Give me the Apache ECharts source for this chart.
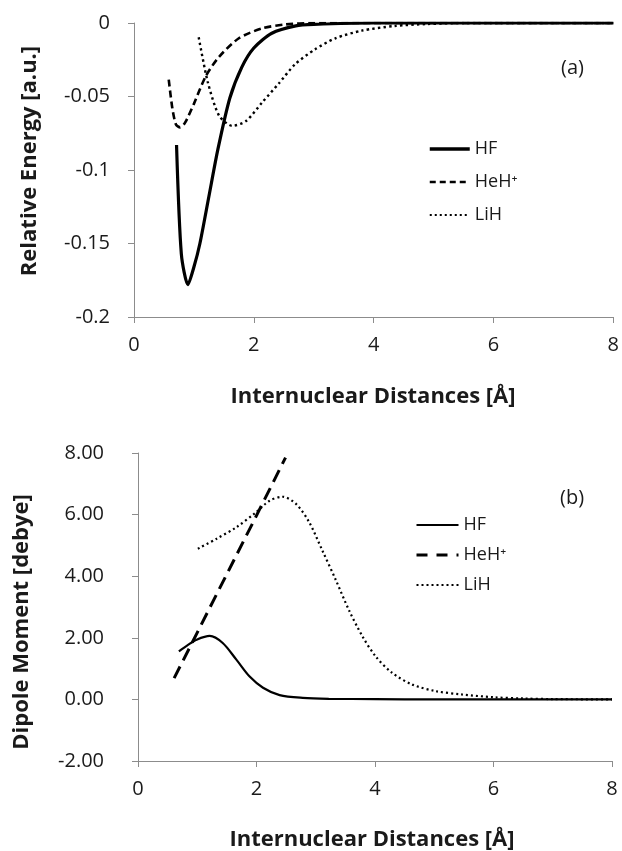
<!DOCTYPE html>
<html>
<head>
<meta charset="utf-8">
<script src="https://cdn.jsdelivr.net/npm/echarts@6/dist/echarts.min.js"></script>
<style>
html,body{margin:0;padding:0;background:#fff;}
#c{width:622px;height:851px;}
</style>
</head>
<body>
<div id="c"></div>
<script>
// ---- Data ----
const xTicks = [0, 2, 4, 6, 8];
const seriesNames = ['HF', 'HeH\u207A', 'LiH'];

// (a) Relative energy [a.u.]
const hfEnergyX   = [0.71, 0.79, 0.90, 1.00, 1.10, 1.25, 1.40, 1.60, 1.80, 2.00, 2.30, 2.70, 3.00, 4.00, 5.00, 6.00, 7.00, 8.00];
const hfEnergyY   = [-0.083, -0.157, -0.178, -0.166, -0.150, -0.118, -0.086, -0.051, -0.030, -0.017, -0.007, -0.002, -0.001, 0, 0, 0, 0, 0];
const hehEnergyX  = [0.58, 0.64, 0.70, 0.77, 0.85, 1.00, 1.20, 1.42, 1.75, 2.14, 2.53, 3.00, 4.00, 5.00, 6.00, 7.00, 8.00];
const hehEnergyY  = [-0.0385, -0.058, -0.069, -0.071, -0.068, -0.055, -0.036, -0.023, -0.0104, -0.0036, -0.001, 0, 0, 0, 0, 0, 0];
const lihEnergyX  = [1.08, 1.23, 1.42, 1.64, 1.87, 2.14, 2.42, 2.69, 3.02, 3.36, 3.80, 4.35, 4.90, 5.50, 6.00, 7.00, 8.00];
const lihEnergyY  = [-0.0097, -0.040, -0.063, -0.070, -0.0667, -0.054, -0.041, -0.028, -0.018, -0.0104, -0.0052, -0.002, -0.0007, 0, 0, 0, 0];

// (b) Dipole moment [debye]
const hfDipoleX   = [0.69, 0.85, 0.99, 1.21, 1.43, 1.66, 1.88, 2.11, 2.39, 2.78, 3.22, 4.00, 5.00, 6.00, 7.00, 8.00];
const hfDipoleY   = [1.56, 1.78, 1.94, 2.06, 1.83, 1.29, 0.75, 0.38, 0.14, 0.05, 0.02, 0.01, 0, 0, 0, 0];
const hehDipoleX  = [0.61, 1.00, 1.50, 2.00, 2.49];
const hehDipoleY  = [0.69, 2.17, 4.07, 5.97, 7.85];
const lihDipoleX  = [1.01, 1.32, 1.66, 1.99, 2.22, 2.44, 2.67, 2.89, 3.11, 3.34, 3.56, 3.79, 4.01, 4.29, 4.63, 5.02, 5.47, 6.00, 6.50, 7.00, 8.00];
const lihDipoleY  = [4.89, 5.21, 5.59, 6.07, 6.45, 6.58, 6.34, 5.75, 4.84, 3.87, 2.90, 2.04, 1.40, 0.86, 0.48, 0.27, 0.16, 0.07, 0.03, 0.01, 0.00];

const energyTicks = [-0.2, -0.15, -0.1, -0.05, 0];
const dipoleTicks = [-2, 0, 2, 4, 6, 8];

// ---- Helpers ----
const pair = (xs, ys) => xs.map((x, i) => [x, ys[i]]);
const FONT = "'Open Sans', 'Noto Sans', sans-serif";
const TXT = '#1a1a1a';
const AX = '#8c8c8c';

function xAxisCfg(gridIndex) {
  return {
    type: 'value', gridIndex, min: xTicks[0], max: xTicks[xTicks.length - 1], interval: 2,
    axisLine: { onZero: false, lineStyle: { color: AX, width: 1 } },
    axisTick: { show: true, length: 6, lineStyle: { color: AX } },
    axisLabel: { color: TXT, fontFamily: FONT, fontSize: 20, margin: 18 },
    splitLine: { show: false }
  };
}

const chart = echarts.init(document.getElementById('c'), null, { renderer: 'canvas' });

const legendBase = {
  orient: 'vertical', itemHeight: 14,
  textStyle: { color: TXT, fontFamily: FONT, fontSize: 18 },
  itemStyle: { opacity: 0 },
  selectedMode: false
};

const topStyles = [
  { color: '#000', width: 3.5, type: 'solid' },
  { color: '#000', width: 2.6, type: [6, 4] },
  { color: '#000', width: 2.2, type: [2, 3] }
];
const botStyles = [
  { color: '#000', width: 2.2, type: 'solid' },
  { color: '#000', width: 3, type: [11, 9] },
  { color: '#000', width: 2, type: [2, 3] }
];

const option = {
  animation: false,
  backgroundColor: '#fff',
  textStyle: { fontFamily: FONT },
  grid: [
    { left: 134, top: 23, width: 482, height: 294 },
    { left: 138, top: 453, width: 474, height: 308 }
  ],
  xAxis: [xAxisCfg(0), xAxisCfg(1)],
  yAxis: [
    {
      type: 'value', gridIndex: 0, min: energyTicks[0], max: energyTicks[energyTicks.length - 1], interval: 0.05,
      axisLine: { show: true, lineStyle: { color: AX } },
      axisTick: { show: true, length: 6, lineStyle: { color: AX } },
      axisLabel: { color: TXT, fontFamily: FONT, fontSize: 20, margin: 24 },
      splitLine: { show: false }
    },
    {
      type: 'value', gridIndex: 1, min: dipoleTicks[0], max: dipoleTicks[dipoleTicks.length - 1], interval: 2,
      axisLine: { show: true, lineStyle: { color: AX } },
      axisTick: { show: true, length: 6, lineStyle: { color: AX } },
      axisLabel: { color: TXT, fontFamily: FONT, fontSize: 20, margin: 34, formatter: v => v.toFixed(2) },
      splitLine: { show: false }
    }
  ],
  legend: [
    Object.assign({}, legendBase, {
      left: 423, top: 135, itemWidth: 40, itemGap: 15,
      data: seriesNames.map((n, i) => ({ name: n, lineStyle: topStyles[i] }))
    }),
    Object.assign({}, legendBase, {
      left: 410, top: 511, itemWidth: 42, itemGap: 12,
      data: seriesNames.map((n, i) => ({ name: n + ' ', lineStyle: botStyles[i] }))
    })
  ],
  graphic: [
    { type: 'text', left: 561, top: 58, style: { text: '(a)', fill: TXT, font: "20px 'Open Sans'" } },
    { type: 'text', left: 560, top: 488, style: { text: '(b)', fill: TXT, font: "20px 'Open Sans'" } },
    { type: 'text', x: 30, y: 161, rotation: Math.PI / 2, style: { text: 'Relative Energy [a.u.]', fill: TXT, font: "bold 22px 'Open Sans'", align: 'center', verticalAlign: 'middle' } },
    { type: 'text', x: 22, y: 622, rotation: Math.PI / 2, style: { text: 'Dipole Moment [debye]', fill: TXT, font: "bold 22px 'Open Sans'", align: 'center', verticalAlign: 'middle' } },
    { type: 'text', x: 373, y: 397, style: { text: 'Internuclear Distances [Å]', fill: TXT, font: "bold 22px 'Open Sans'", align: 'center', verticalAlign: 'middle' } },
    { type: 'text', x: 372, y: 840, style: { text: 'Internuclear Distances [Å]', fill: TXT, font: "bold 22px 'Open Sans'", align: 'center', verticalAlign: 'middle' } }
  ],
  series: [
    { name: seriesNames[0], type: 'line', xAxisIndex: 0, yAxisIndex: 0, data: pair(hfEnergyX, hfEnergyY), symbol: 'none', smooth: 0.25,
      lineStyle: { color: '#000', width: 3.2, type: 'solid' }, itemStyle: { color: '#000' } },
    { name: seriesNames[1], type: 'line', xAxisIndex: 0, yAxisIndex: 0, data: pair(hehEnergyX, hehEnergyY), symbol: 'none', smooth: 0.25,
      lineStyle: { color: '#000', width: 2.6, type: [7, 4] }, itemStyle: { color: '#000' } },
    { name: seriesNames[2], type: 'line', xAxisIndex: 0, yAxisIndex: 0, data: pair(lihEnergyX, lihEnergyY), symbol: 'none', smooth: 0.25,
      lineStyle: { color: '#000', width: 2.4, type: [2.4, 3.2] }, itemStyle: { color: '#000' } },

    { name: seriesNames[0] + ' ', type: 'line', xAxisIndex: 1, yAxisIndex: 1, data: pair(hfDipoleX, hfDipoleY), symbol: 'none', smooth: 0.3,
      lineStyle: { color: '#000', width: 2.2, type: 'solid' }, itemStyle: { color: '#000' } },
    { name: seriesNames[1] + ' ', type: 'line', xAxisIndex: 1, yAxisIndex: 1, data: pair(hehDipoleX, hehDipoleY), symbol: 'none',
      lineStyle: { color: '#000', width: 3, type: [13, 7] }, itemStyle: { color: '#000' } },
    { name: seriesNames[2] + ' ', type: 'line', xAxisIndex: 1, yAxisIndex: 1, data: pair(lihDipoleX, lihDipoleY), symbol: 'none', smooth: 0.3,
      lineStyle: { color: '#000', width: 2.2, type: [2, 3] }, itemStyle: { color: '#000' } }
  ]
};
chart.setOption(option);
</script>
</body>
</html>
